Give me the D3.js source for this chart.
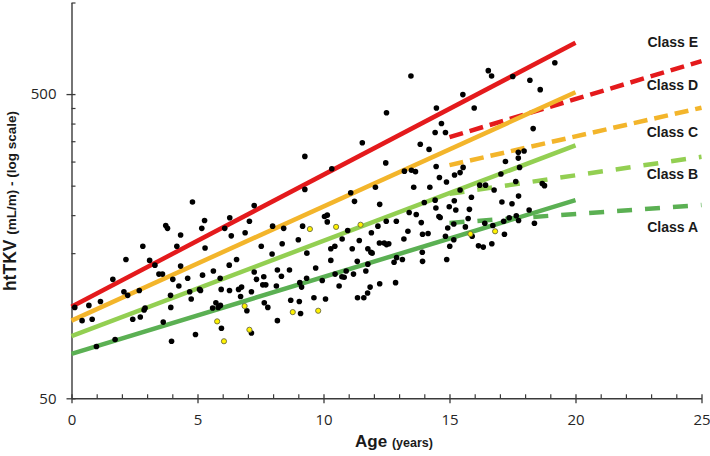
<!DOCTYPE html>
<html><head><meta charset="utf-8">
<script src="https://cdn.jsdelivr.net/npm/d3@7"></script>
<style>body{margin:0;background:#fff}svg{display:block}</style>
</head><body><div id="chart"></div>
<script>
// ---- data ----
const ageYears = [0.13,0.42,0.69,0.82,0.99,1.15,1.64,1.73,2.08,2.16,2.23,2.43,2.69,2.73,2.83,2.88,2.92,3.10,3.31,3.47,3.61,3.64,3.74,3.81,3.93,3.94,3.97,4.02,4.18,4.26,4.33,4.33,4.61,4.69,4.75,4.80,4.92,5.08,5.12,5.17,5.20,5.28,5.30,5.60,5.63,5.73,5.82,5.90,5.91,5.94,5.95,6.08,6.26,6.27,6.28,6.34,6.55,6.63,6.71,6.75,6.89,6.96,7.06,7.14,7.14,7.25,7.25,7.34,7.53,7.59,7.63,7.65,7.71,7.79,7.96,7.98,8.13,8.17,8.17,8.33,8.36,8.42,8.65,8.70,9.00,9.04,9.06,9.09,9.13,9.17,9.26,9.26,9.33,9.34,9.62,9.69,9.95,10.04,10.08,10.15,10.15,10.29,10.29,10.33,10.45,10.46,10.62,10.73,10.74,10.82,10.90,10.96,11.08,11.14,11.19,11.23,11.34,11.35,11.42,11.54,11.60,11.68,11.75,11.76,11.76,11.85,11.88,11.90,11.93,12.06,12.16,12.22,12.23,12.23,12.41,12.47,12.49,12.50,12.50,12.59,12.80,12.86,12.89,12.90,13.13,13.19,13.21,13.35,13.40,13.47,13.49,13.58,13.65,13.68,13.84,13.88,13.92,13.93,13.93,14.00,14.15,14.19,14.22,14.43,14.43,14.46,14.47,14.48,14.58,14.60,14.63,14.68,14.84,14.84,14.88,14.89,14.93,14.99,15.01,15.17,15.17,15.19,15.20,15.25,15.42,15.42,15.53,15.54,15.63,15.74,15.79,15.87,15.90,15.98,16.15,16.20,16.34,16.40,16.43,16.54,16.67,16.68,16.72,16.77,17.04,17.08,17.15,17.18,17.22,17.37,17.48,17.51,17.63,17.65,17.73,17.73,17.74,17.74,17.78,17.96,18.16,18.19,18.32,18.37,18.60,18.68,18.77,19.18];
const htTKV = [99.5,90,101,91,74,104,123,78,112,143,109,91,113,92.5,158,97.5,99,142,137,128,128,89,185,181,109,99.5,77,123,158,117,172,136,124,112,106,221,81,114,113,181,127,192,156,99,131,103,99.5,124,101,114,85,181,137,113,196,171,143,114,108,116,175,97,191,82,112,215,130,123,158,118,125.5,103,118,99.5,149,184,117,132,90,126,161,181,132,105,166,104,120,95,116,184,312,243,124,150,107,134,122,198,106,200,190,155,142,284,158,128,117,125.5,167,125,131,178,237,155,128,222,141,107,165,346,107,131,111,155,138,116,151,175,150,247,184,162,119,217,162,297,191,160,434,161,140,120,191,145,143,167,279,177,204,573,281,247,278,201,342,189,151,141,173,220,174,329,247,374,224,211,289,450,198,266,196.5,400,374,170.5,257,143,181.5,213,158,187,166,223,271,208,276,242,498,287,183,195,209,229,170.5,450,158.5,251,157,188,251,597,573,161,185,242,273,221,191,173,300,196,218,571,258,199,322,308,231,192,287,325,208,555,385,188,517,254,250,634];
const yellowAge = [5.78,6.05,6.87,7.06,8.78,9.46,9.79,10.5,11.47,15.83,16.81];
const yellowHtTKV = [89.5,77,100.5,84,96,180,97,183,186,173.5,177];

// class boundary lines (fitted, ages 0-20) and projections (ages 15-25)
const solidAges = [0, 20];
const solidDE = [100, 737];
const solidCD = [90, 507];
const solidBC = [80, 339];
const solidAB = [70, 224];
const projAges = [15, 25];
const projDE = [361, 642];
const projCD = [292, 451];
const projBC = [235, 311];
const projAB = [188.6, 216];

const classLabels = ["Class E","Class D","Class C","Class B","Class A"];
const classLabelValues = [741, 534, 375, 272.5, 183];

const xMajor = [0,5,10,15,20,25];
const xMinor = d3.range(1,25).filter(d => d % 5 !== 0);
const yMajor = [50, 500];
const yMinor = [100,150,200,250,300,350,400,450,1000];

// ---- drawing ----
const W = 710, H = 456;
const svg = d3.select("#chart").append("svg").attr("width", W).attr("height", H);
const x = d3.scaleLinear().domain([0,25]).range([71.5, 701.5]);
const y = d3.scaleLog().domain([50,1000]).range([398.3, 2.5]);

const axisColor = "#3a3a3a";
const tickFont = "'Open Sans', sans-serif";

// x axis
const gx = svg.append("g").attr("transform", `translate(0,${y(50)})`)
  .call(d3.axisBottom(x).tickValues(xMajor).tickFormat(d3.format("d")).tickSizeInner(5).tickSizeOuter(0));
gx.select(".domain").attr("stroke", axisColor).attr("stroke-width", 1.4);
gx.selectAll(".tick line").attr("y1", -4).attr("y2", 5).attr("stroke", axisColor).attr("stroke-width", 1.3);
gx.selectAll(".tick text").attr("y", 27).attr("dy", null).attr("font-family", tickFont).attr("font-size", 15).attr("fill", "#262626");
const gxm = svg.append("g").attr("transform", `translate(0,${y(50)})`)
  .call(d3.axisTop(x).tickValues(xMinor).tickFormat("").tickSize(4));
gxm.select(".domain").remove();
gxm.selectAll(".tick line").attr("stroke", axisColor).attr("stroke-width", 1.2);

// y axis
const gy = svg.append("g").attr("transform", `translate(${x(0)},0)`)
  .call(d3.axisLeft(y).tickValues(yMajor).tickFormat(d3.format("d")).tickSizeInner(5).tickSizeOuter(0));
gy.select(".domain").attr("stroke", axisColor).attr("stroke-width", 1.4);
gy.selectAll(".tick line").attr("x1", 4).attr("x2", -5).attr("stroke", axisColor).attr("stroke-width", 1.3);
gy.selectAll(".tick text").attr("x", -15).attr("font-family", tickFont).attr("font-size", 15).attr("fill", "#262626");
const gym = svg.append("g").attr("transform", `translate(${x(0)},0)`)
  .call(d3.axisRight(y).tickValues(yMinor).tickFormat("").tickSize(4));
gym.select(".domain").remove();
gym.selectAll(".tick line").attr("stroke", axisColor).attr("stroke-width", 1.2);

// lines
const line = d3.line().x(d => x(d[0])).y(d => y(d[1]));
const colors = {DE: "#e41a1c", CD: "#f3b52b", BC: "#93cf52", AB: "#5bb053"};
const solids = [["AB", solidAB], ["BC", solidBC], ["CD", solidCD], ["DE", solidDE]];
const projs = [["AB", projAB], ["BC", projBC], ["CD", projCD], ["DE", projDE]];
projs.forEach(([k, vals]) => {
  svg.append("path").datum(projAges.map((a,i) => [a, vals[i]])).attr("d", line)
    .attr("fill","none").attr("stroke", colors[k]).attr("stroke-width", 4.5)
    .attr("stroke-dasharray", (k === "AB" || k === "BC") ? "15,13" : "14,7");
});
solids.forEach(([k, vals]) => {
  svg.append("path").datum(solidAges.map((a,i) => [a, vals[i]])).attr("d", line)
    .attr("fill","none").attr("stroke", colors[k]).attr("stroke-width", 4.5);
});

// points
svg.append("g").selectAll("circle").data(ageYears.map((a,i) => [a, htTKV[i]])).join("circle")
  .attr("cx", d => x(d[0])).attr("cy", d => y(d[1])).attr("r", 2.8).attr("fill", "#000");
svg.append("g").selectAll("circle").data(yellowAge.map((a,i) => [a, yellowHtTKV[i]])).join("circle")
  .attr("cx", d => x(d[0])).attr("cy", d => y(d[1])).attr("r", 2.6)
  .attr("fill", "#fff200").attr("stroke", "#6b6b40").attr("stroke-width", 0.9);

// class labels
svg.append("g").selectAll("text").data(classLabels).join("text")
  .attr("x", 698).attr("y", (d,i) => y(classLabelValues[i]) + 5)
  .attr("text-anchor", "end").attr("font-family", "'Liberation Sans', Arial, sans-serif")
  .attr("font-weight", "bold").attr("font-size", 14).attr("fill", "#1a1a1a").text(d => d);

// axis titles
const xt = svg.append("text").attr("x", 394).attr("y", 447).attr("text-anchor", "middle")
  .attr("font-family", "'Liberation Sans', Arial, sans-serif").attr("font-weight", "bold").attr("fill", "#1a1a1a");
xt.append("tspan").attr("font-size", 17).text("Age ");
xt.append("tspan").attr("font-size", 12.5).text("(years)");

const yt = svg.append("text").attr("transform", `translate(16,${201}) rotate(-90)`).attr("text-anchor", "middle")
  .attr("font-family", "'Liberation Sans', Arial, sans-serif").attr("font-weight", "bold").attr("fill", "#1a1a1a");
yt.append("tspan").attr("font-size", 17.5).text("htTKV ");
yt.append("tspan").attr("font-size", 13.5).text("(mL/m) - (log scale)");
</script></body></html>
